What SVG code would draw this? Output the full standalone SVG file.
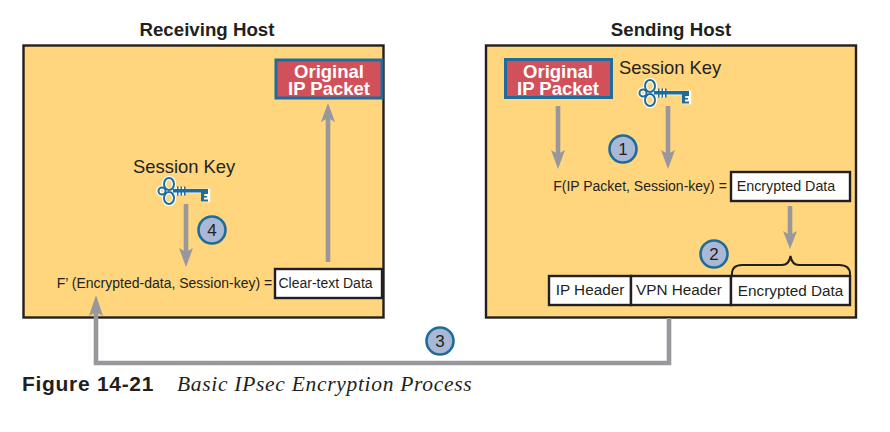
<svg xmlns="http://www.w3.org/2000/svg" width="890" height="432" viewBox="0 0 890 432">
<style>
text{font-family:"Liberation Sans",Arial,sans-serif;fill:#231f20}
.host{fill:#ffd57e;stroke:#231f20;stroke-width:2.4}
.title{font-size:18.7px;font-weight:bold;text-anchor:middle}
.pkt{fill:#d2505a;stroke:#1f6c9b;stroke-width:3}
.pkttxt{font-size:18.5px;font-weight:bold;fill:#fff;text-anchor:middle}
.box{fill:#fff;stroke:#231f20;stroke-width:2.4}
.lbl{font-size:14px;text-anchor:middle}
.row{font-size:15.3px;text-anchor:middle}
.sk{font-size:18.4px}
.conn{fill:none;stroke:#98989c;stroke-width:4.6}
.head{fill:#98989c}
.step circle{fill:#a9b8d4;stroke:#1f6c9b;stroke-width:2.6}
.step text{font-size:17px;text-anchor:middle}
.ko{fill:none;stroke:#fff;stroke-width:4.500}
.ki{fill:none;stroke:#1f6c9b;stroke-width:2}
.kf{fill:#1f6c9b}
.brace{fill:none;stroke:#231f20;stroke-width:2}
</style>
<defs>
<g id="keyglyph">
<ellipse class="ko" cx="-16" cy="-11" rx="5" ry="6"/><ellipse class="ko" cx="-16" cy="3" rx="5" ry="6"/><ellipse class="ko" cx="-23" cy="-4" rx="3.500" ry="3.500"/>
<path class="ko" d="M-11-4H23V5H16M-7-8V0M-3-8V0"/>
<ellipse class="ki" cx="-16" cy="-11" rx="5" ry="6"/><ellipse class="ki" cx="-16" cy="3" rx="5" ry="6"/><ellipse class="ki" cx="-23" cy="-4" rx="3.500" ry="3.500"/>
<path class="kf" d="M-12-6H23V-2.500H-12ZM-8-8.500H-6.500V.5H-8ZM-4.500-8.500H-3V.5H-4.500ZM-1-8.500H.5V.5H-1ZM16-3H23V-1H19V1H22V2.500H19V4.500H23V6.500H16Z"/>
</g>
</defs>
<g id="receiving-host">
<rect class="host" x="23.500" y="45.500" width="360" height="272"/>
<text class="title" x="207" y="36">Receiving Host</text>
</g>
<g id="sending-host">
<rect class="host" x="486" y="45.500" width="370" height="272"/>
<text class="title" x="671" y="36">Sending Host</text>
</g>
<g id="connectors">
<path class="conn" d="M328 262V118"/><path class="head" d="M321 122L328 103L335 122L328 118Z"/>
<path class="conn" d="M186 204V252"/><path class="head" d="M179 248L186 267L193 248L186 252Z"/>
<path class="conn" d="M558 106V154"/><path class="head" d="M551 150L558 169L565 150L558 154Z"/>
<path class="conn" d="M668 106V154"/><path class="head" d="M661 150L668 169L675 150L668 154Z"/>
<path class="conn" d="M790 206V235"/><path class="head" d="M783 231L790 249L797 231L790 235Z"/>
<path class="conn" d="M669 318V363H96V312"/><path class="head" d="M89 316L96 295L103 316L96 312Z"/>
</g>
<g id="packet-receiver">
<rect class="pkt" x="276" y="60" width="106" height="38"/>
<text class="pkttxt"><tspan x="329" y="77.500">Original</tspan><tspan x="329" y="94.500">IP Packet</tspan></text>
</g>
<g id="packet-sender">
<rect class="pkt" x="505.500" y="59.500" width="106" height="38"/>
<text class="pkttxt"><tspan x="558" y="77.500">Original</tspan><tspan x="558" y="94.500">IP Packet</tspan></text>
</g>
<g id="key-receiver">
<text class="sk" x="133" y="173">Session Key</text>
<use href="#keyglyph" x="185" y="195"/>
</g>
<g id="key-sender">
<text class="sk" x="619" y="74">Session Key</text>
<use href="#keyglyph" x="666" y="97"/>
</g>
<g id="formula-receiver">
<text class="lbl" x="164.500" y="288">F’ (Encrypted-data, Session-key) =</text>
<rect class="box" x="275" y="269" width="107" height="29"/>
<text class="lbl" x="325.500" y="288">Clear-text Data</text>
</g>
<g id="formula-sender">
<text class="lbl" x="640" y="191">F(IP Packet, Session-key) =</text>
<rect class="box" x="731" y="172" width="119" height="29"/>
<text class="lbl" x="786" y="191" style="font-size:14.300px">Encrypted Data</text>
</g>
<g id="packet-headers">
<rect class="box" x="549" y="276" width="82" height="29"/>
<text class="row" x="590" y="295">IP Header</text>
<rect class="box" x="631" y="276" width="100" height="29"/>
<text class="row" x="679" y="295">VPN Header</text>
<rect class="box" x="731" y="276" width="119" height="29"/>
<text class="row" x="790.500" y="296">Encrypted Data</text>
<path class="brace" d="M732 276V274Q732 265 742 265H782Q789 265 790.500 256Q792 265 799 265H839Q850 265 850 274V276"/>
</g>
<g id="step-1" class="step"><circle cx="623" cy="149" r="13.500"/><text x="623" y="155">1</text></g>
<g id="step-2" class="step"><circle cx="714" cy="254" r="13.500"/><text x="714" y="260">2</text></g>
<g id="step-3" class="step"><circle cx="440" cy="341" r="13.500"/><text x="440" y="347">3</text></g>
<g id="step-4" class="step"><circle cx="212" cy="230" r="13.500"/><text x="212" y="236">4</text></g>
<g id="caption">
<text x="22" y="391" style="font-size:21px;font-weight:bold;letter-spacing:.7px">Figure 14-21</text>
<text x="177" y="391" style="font-family:'Liberation Serif',serif;font-size:21.500px;font-style:italic;letter-spacing:.7px">Basic IPsec Encryption Process</text>
</g>
</svg>
